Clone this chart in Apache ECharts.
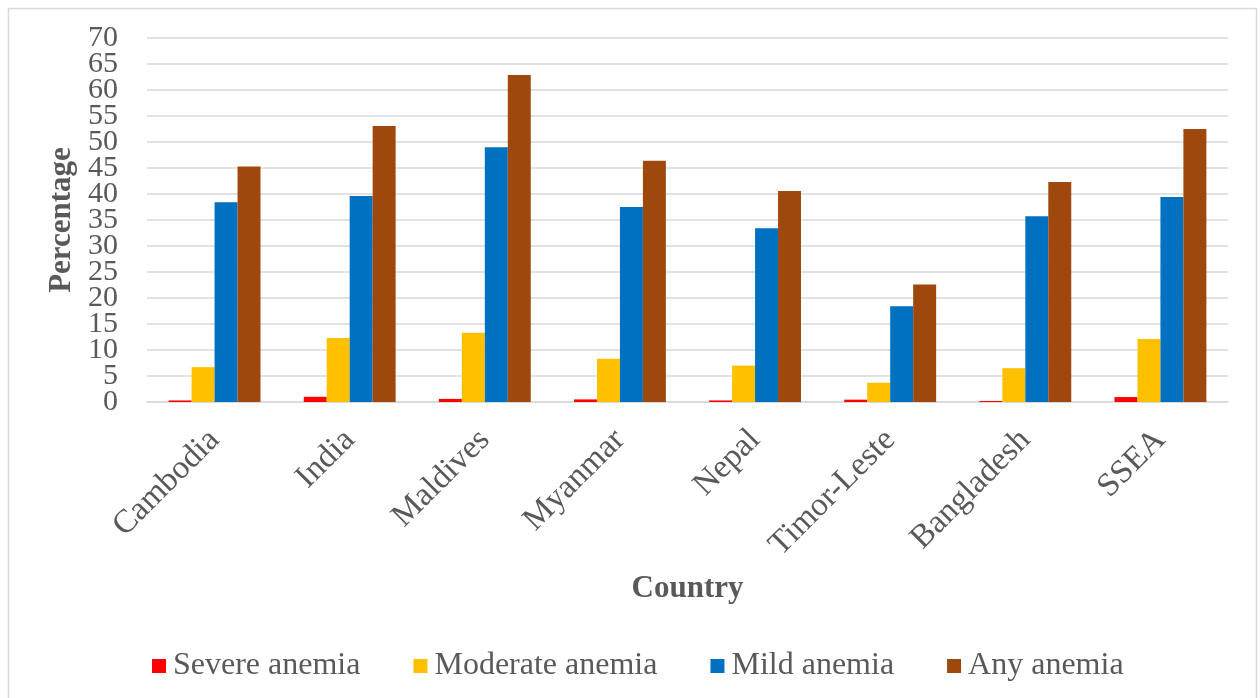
<!DOCTYPE html>
<html>
<head>
<meta charset="utf-8">
<script src="https://cdn.jsdelivr.net/npm/echarts@6/dist/echarts.min.js"></script>
<style>
  html, body { margin: 0; padding: 0; background: #ffffff; }
  #chart { width: 1260px; height: 698px; }
</style>
</head>
<body>
<div id="chart"></div>
<script>
// Anaemia prevalence (%) by country
const countries = ['Cambodia', 'India', 'Maldives', 'Myanmar', 'Nepal', 'Timor-Leste', 'Bangladesh', 'SSEA'];
const severe   = [0.3, 1.0, 0.6, 0.5, 0.3, 0.45, 0.2, 0.95];
const moderate = [6.7, 12.3, 13.3, 8.3, 7.0, 3.7, 6.5, 12.1];
const mild     = [38.4, 39.6, 49.0, 37.5, 33.4, 18.4, 35.7, 39.4];
const anyAnemia = [45.3, 53.1, 62.9, 46.4, 40.6, 22.6, 42.3, 52.5];
const seriesNames = ['Severe anemia', 'Moderate anemia', 'Mild anemia', 'Any anemia'];
const seriesColors = ['#ff0000', '#ffc000', '#0070c0', '#9e480e'];
const yMin = 0, yMax = 70, yStep = 5;

const font = '"Liberation Serif", "Times New Roman", serif';
const grey = '#595959';

const chart = echarts.init(document.getElementById('chart'), null, { renderer: 'canvas' });

const values = [severe, moderate, mild, anyAnemia];

// The tick labels sit closer together than their glyph height, so the
// labels are split across two overlaid axes sharing one scale: multiples
// of 10 on the first, the in-between fives on the second.
const tickLabel = (keepTens) => ({
  margin: 29, fontFamily: font, fontSize: 30, color: grey,
  showMinLabel: true, showMaxLabel: true,
  formatter: (v) => ((v % 10 === 0) === keepTens ? String(v) : '')
});

chart.setOption({
  backgroundColor: '#ffffff',
  animation: false,
  graphic: [{
    type: 'rect',
    shape: { x: 8.5, y: 8.5, width: 1248, height: 700 },
    style: { fill: 'none', stroke: '#d9d9d9', lineWidth: 1.5 },
    silent: true
  }],
  grid: { left: 147, right: 32, top: 38, bottom: 296, containLabel: false },
  legend: {
    left: 147,
    top: 645,
    itemWidth: 14,
    itemHeight: 14,
    itemGap: 53,
    icon: 'rect',
    textStyle: { fontFamily: font, fontSize: 32, color: grey, padding: [0, 0, 0, 2] },
    data: seriesNames
  },
  xAxis: {
    type: 'category',
    data: countries,
    name: 'Country',
    nameLocation: 'middle',
    nameGap: 171,
    nameTextStyle: { fontFamily: font, fontSize: 31, fontWeight: 'bold', color: grey },
    axisLine: { lineStyle: { color: '#d9d9d9', width: 1.5 } },
    axisTick: { show: false },
    axisLabel: {
      rotate: 45,
      margin: 33,
      fontFamily: font,
      fontSize: 33,
      color: grey,
      interval: 0
    }
  },
  yAxis: [{
    type: 'value',
    position: 'left',
    min: yMin,
    max: yMax,
    interval: yStep,
    name: 'Percentage',
    nameLocation: 'middle',
    nameGap: 67,
    nameTextStyle: { fontFamily: font, fontSize: 31, fontWeight: 'bold', color: grey },
    axisLine: { show: false },
    axisTick: { show: false },
    axisLabel: tickLabel(true),
    splitLine: { lineStyle: { color: '#d9d9d9', width: 1.5 } }
  }, {
    type: 'value',
    position: 'left',
    offset: 0,
    min: yMin,
    max: yMax,
    interval: yStep,
    axisLine: { show: false },
    axisTick: { show: false },
    axisLabel: tickLabel(false),
    splitLine: { show: false }
  }],
  series: seriesNames.map((name, i) => ({
    name: name,
    type: 'bar',
    yAxisIndex: 0,
    data: values[i],
    itemStyle: { color: seriesColors[i] },
    barGap: '0%',
    barCategoryGap: '32%'
  }))
});
</script>
</body>
</html>
